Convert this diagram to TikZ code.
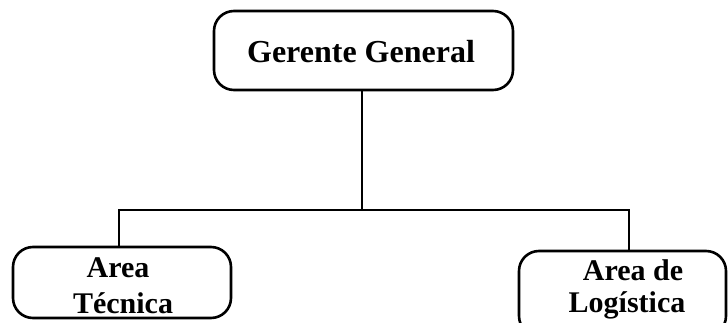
\documentclass[tikz,border=0pt]{standalone}
\usepackage{fontspec}
\setmainfont{Liberation Serif}
\begin{document}
\begin{tikzpicture}[x=1pt,y=1pt,
  box/.style={draw=black, line width=2.6pt, rounded corners=20pt, inner sep=0pt},
  lbl/.style={font=\fontsize{30}{36}\selectfont\bfseries, inner sep=0pt, anchor=base},
  conn/.style={line width=2.4pt}]
\useasboundingbox (0,0) rectangle (728,322);
\clip (0,0) rectangle (728,322);
\node[box, minimum width=299pt, minimum height=79pt] (G) at (363.5,271.5) {};
\node[font=\fontsize{32}{38}\selectfont\bfseries, inner sep=0pt, anchor=base] (gt) at (361,259) {Gerente General};
\node[box, minimum width=218pt, minimum height=71pt] (L) at (122,39.5) {};
\node[lbl] (lt1) at (118,45) {Area};
\node[lbl] (lt2) at (123,9) {Técnica};
\node[box, minimum width=207pt, minimum height=85pt] (R) at (622.5,28.5) {};
\node[lbl] (rt1) at (633,42) {Area de};
\node[lbl] (rt2) at (627,10) {Logística};
\coordinate (J) at (362,112);
\draw[conn] (G.south -| J) -- (J);
\draw[conn] (L.north -| 119,0) -- (119,112) -- (J) -- (629,112) -- (R.north -| 629,0);
\end{tikzpicture}
\end{document}
